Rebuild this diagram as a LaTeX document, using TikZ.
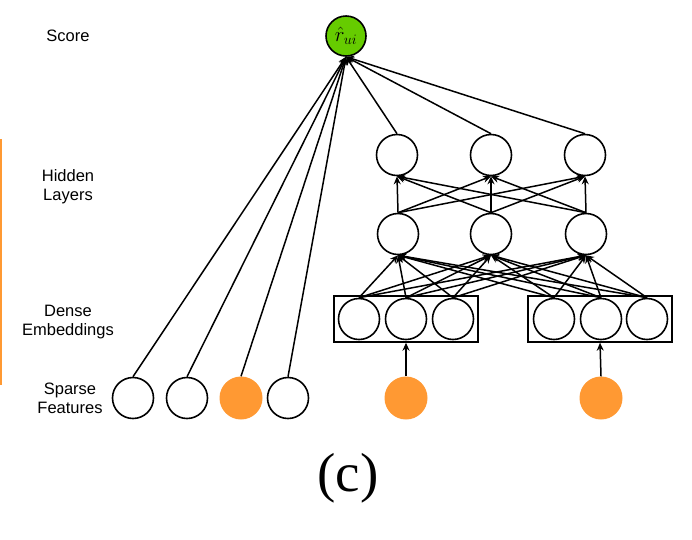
\documentclass[tikz,border=0pt]{standalone}
\usepackage{fontspec}
\setsansfont{Liberation Sans}
\newfontfamily\capfont{Liberation Serif}
\usetikzlibrary{arrows.meta}
\definecolor{scoregreen}{RGB}{102,204,0}
\definecolor{sparseorange}{RGB}{255,153,51}
\begin{document}
\begin{tikzpicture}[x=1pt,y=-1pt,
  neuron/.style={circle,draw=black,line width=1.6pt,minimum size=41pt,inner sep=0pt},
  onehot/.style={circle,fill=sparseorange,minimum size=43pt,inner sep=0pt},
  embbox/.style={draw=black,line width=1.4pt,minimum width=144pt,minimum height=46pt,inner sep=0pt},
  conn/.style={line width=1.5pt,-{Stealth[length=8pt,width=7pt]}},
  lbl/.style={font=\sffamily\fontsize{16.5}{19}\selectfont,align=center}]
\useasboundingbox (0,0) rectangle (692,539);
\fill[sparseorange] (0,139) rectangle (2,385);
% labels
\node[lbl] (lscore) at (68,36) {Score};
\node[lbl] (lhidden) at (68,187) {Hidden\\Layers};
\node[lbl] (ldense) at (68,322) {Dense\\Embeddings};
\node[lbl] (lsparse) at (70,398) {Sparse\\Features};
\node[font=\capfont\fontsize{55}{60}\selectfont] (cap) at (348,478) {(c)};
% score
\node[neuron,fill=scoregreen,minimum size=40pt,font=\fontsize{22}{24}\selectfont] (score) at (346,36) {$\hat{r}_{ui}$};
% hidden layers
\node[neuron] (h21) at (397,155) {};
\node[neuron] (h22) at (491,155) {};
\node[neuron] (h23) at (585,155) {};
\node[neuron] (h11) at (398,234) {};
\node[neuron] (h12) at (491,234) {};
\node[neuron] (h13) at (586,234) {};
% embeddings
\node[embbox] (boxa) at (406,319) {};
\node[embbox] (boxb) at (600,319) {};
\node[neuron] (e1) at (359,319) {};
\node[neuron] (e2) at (406,319) {};
\node[neuron] (e3) at (453,319) {};
\node[neuron] (e4) at (554,319) {};
\node[neuron] (e5) at (601,319) {};
\node[neuron] (e6) at (647,319) {};
% sparse features
\node[neuron] (s1) at (133,398) {};
\node[neuron] (s2) at (187,398) {};
\node[onehot] (s3) at (241,398) {};
\node[neuron] (s4) at (288,398) {};
\node[onehot] (s5) at (406,398) {};
\node[onehot] (s6) at (601,398) {};
% connections
\foreach \s in {s1,s2,s3,s4,h21,h22,h23}
  \draw[conn] (\s.north) -- (score.south);
\foreach \a in {h11,h12,h13}
  \foreach \b in {h21,h22,h23}
    \draw[conn] (\a.north) -- (\b.south);
\foreach \a in {e1,e2,e3,e4,e5,e6}
  \foreach \b in {h11,h12,h13}
    \draw[conn] (\a.north) -- (\b.south);
\draw[conn] (s5.north) -- (boxa.south);
\draw[conn] (s6.north) -- (boxb.south);
\end{tikzpicture}
\end{document}
